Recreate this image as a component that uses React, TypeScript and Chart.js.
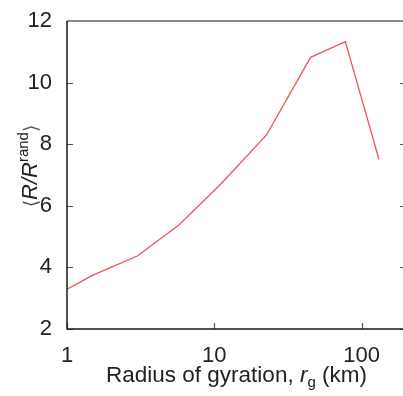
import React, { useEffect, useRef } from "react";
import { Chart, registerables } from "chart.js";

Chart.register(...registerables);

const radiusKm = [1, 1.5, 3, 5.75, 11.2, 22.6, 45, 77.5, 131];
const ratioValues = [3.29, 3.75, 4.37, 5.38, 6.73, 8.3, 10.82, 11.33, 7.51];
const xTickValues = [1, 10, 100];
const yTickValues = [2, 4, 6, 8, 10, 12];

const FONT = "'Liberation Sans', Arial, Helvetica, sans-serif";
const TEXT = "#222";

const axesPlugin = {
  id: "axesPlugin",
  afterDraw(chart: any) {
    const { ctx, chartArea: a, scales } = chart;
    const xs = scales.x;
    const ys = scales.y;
    ctx.save();
    // inward ticks
    ctx.strokeStyle = "#555";
    ctx.lineWidth = 1.2;
    for (const v of yTickValues) {
      const py = Math.round(ys.getPixelForValue(v)) + 0.5;
      ctx.beginPath();
      ctx.moveTo(a.left, py);
      ctx.lineTo(a.left + 6, py);
      ctx.moveTo(a.right - 6, py);
      ctx.lineTo(a.right, py);
      ctx.stroke();
    }
    for (const v of xTickValues) {
      const px = Math.round(xs.getPixelForValue(v)) + 0.5;
      ctx.beginPath();
      ctx.moveTo(px, a.bottom);
      ctx.lineTo(px, a.bottom - 6);
      ctx.stroke();
    }
    // borders
    ctx.strokeStyle = "#8a8a8a";
    ctx.lineWidth = 2;
    ctx.beginPath();
    ctx.moveTo(a.left, a.top);
    ctx.lineTo(a.right, a.top);
    ctx.stroke();
    ctx.strokeStyle = "#1a1a1a";
    ctx.lineWidth = 1.5;
    ctx.beginPath();
    ctx.moveTo(a.left, a.top);
    ctx.lineTo(a.left, a.bottom);
    ctx.lineTo(a.right, a.bottom);
    ctx.lineTo(a.right, a.top);
    ctx.stroke();

    // x title
    ctx.fillStyle = TEXT;
    ctx.textBaseline = "alphabetic";
    ctx.textAlign = "left";
    const normal = `22.5px ${FONT}`;
    const italic = `italic 22.5px ${FONT}`;
    const small = `15px ${FONT}`;
    const parts1 = [
      { t: "Radius of gyration, ", f: normal, dy: 0 },
      { t: "r", f: italic, dy: 0 },
      { t: "g", f: small, dy: 5 },
      { t: " (km)", f: normal, dy: 0 },
    ];
    let total = 0;
    for (const p of parts1) {
      ctx.font = p.f;
      total += ctx.measureText(p.t).width;
    }
    let cx = (a.left + a.right) / 2 - total / 2;
    const by = 382;
    for (const p of parts1) {
      ctx.font = p.f;
      ctx.fillText(p.t, cx, by + p.dy);
      cx += ctx.measureText(p.t).width;
    }

    // y title (rotated)
    const parts2 = [
      { t: "\u27E8", f: `19px 'DejaVu Sans', ${FONT}`, dy: 0, c: "#555" },
      { t: "R/R", f: `italic 22px ${FONT}`, dy: 0, c: TEXT },
      { t: "rand", f: `15px ${FONT}`, dy: -9, c: TEXT },
      { t: "\u27E9", f: `19px 'DejaVu Sans', ${FONT}`, dy: 0, c: "#555" },
    ];
    total = 0;
    for (const p of parts2) {
      ctx.font = p.f;
      total += ctx.measureText(p.t).width;
    }
    ctx.translate(37, 166);
    ctx.rotate(-Math.PI / 2);
    let tx = -total / 2;
    for (const p of parts2) {
      ctx.font = p.f;
      ctx.fillStyle = p.c;
      ctx.fillText(p.t, tx, p.dy);
      tx += ctx.measureText(p.t).width;
    }
    ctx.restore();
  },
};

export default function App() {
  const ref = useRef<HTMLCanvasElement | null>(null);
  useEffect(() => {
    if (!ref.current) return;
    const chart = new Chart(ref.current, {
      type: "line",
      data: {
        datasets: [
          {
            data: radiusKm.map((x, i) => ({ x, y: ratioValues[i] })),
            borderColor: "#f0525c",
            borderWidth: 1.3,
            pointRadius: 0,
            tension: 0,
            fill: false,
          },
        ],
      },
      options: {
        animation: false,
        responsive: false,
        devicePixelRatio: 1,
        layout: { padding: { top: 21, right: 6, left: 0, bottom: 0 } },
        plugins: { legend: { display: false }, tooltip: { enabled: false } },
        scales: {
          x: {
            type: "logarithmic",
            min: 1,
            max: 200,
            grid: { display: false },
            border: { display: false },
            afterBuildTicks: (scale: any) => {
              scale.ticks = xTickValues.map((v) => ({ value: v }));
            },
            afterFit: (scale: any) => {
              scale.height = 67;
            },
            ticks: {
              autoSkip: false,
              maxRotation: 0,
              padding: 6,
              color: TEXT,
              font: { family: FONT, size: 22 },
              callback: (v: any) => String(v),
            },
          },
          y: {
            min: 2,
            max: 12,
            grid: { display: false },
            border: { display: false },
            afterBuildTicks: (scale: any) => {
              scale.ticks = yTickValues.map((v) => ({ value: v }));
            },
            afterFit: (scale: any) => {
              scale.width = 67;
            },
            ticks: {
              padding: 7,
              color: TEXT,
              font: { family: FONT, size: 22 },
              callback: (v: any) => String(v),
            },
          },
        },
      },
      plugins: [axesPlugin],
    });
    return () => chart.destroy();
  }, []);
  return (
    <div
      style={{
        position: "absolute",
        left: 0,
        top: 0,
        width: 403,
        height: 396,
        overflow: "hidden",
        background: "#fff",
      }}
    >
      <canvas ref={ref} width={412} height={396} style={{ width: 412, height: 396, display: "block" }} />
    </div>
  );
}
